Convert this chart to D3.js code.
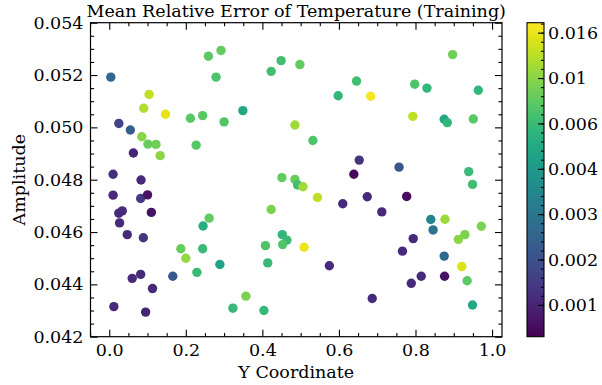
<!DOCTYPE html>
<html>
<head>
<meta charset="utf-8">
<script src="https://cdn.jsdelivr.net/npm/d3@7"></script>
<style>
  body { margin: 0; background: #fff; }
  text { font-family: 'DejaVu Serif', serif; fill: #000; }
</style>
</head>
<body>
<div id="chart"></div>
<script>
// Y coordinate of each sample
const xs = [
  0.259, 0.292, 0.004, 0.279, 0.104, 0.090, 0.147, 0.212, 0.244, 0.300,
  0.025, 0.055, 0.085, 0.101, 0.122, 0.133, 0.227, 0.063, 0.010, 0.083,
  0.449, 0.498, 0.423, 0.646, 0.598, 0.349, 0.485, 0.532, 0.653, 0.639,
  0.451, 0.485, 0.897, 0.798, 0.830, 0.964, 0.683, 0.793, 0.875, 0.883,
  0.951, 0.757, 0.939, 0.010, 0.082, 0.100, 0.025, 0.034, 0.110, 0.027,
  0.047, 0.089, 0.261, 0.245, 0.187, 0.244, 0.200, 0.289, 0.229, 0.166,
  0.082, 0.060, 0.113, 0.012, 0.095, 0.492, 0.506, 0.544, 0.610, 0.423,
  0.452, 0.464, 0.453, 0.408, 0.509, 0.414, 0.575, 0.357, 0.323, 0.404,
  0.949, 0.674, 0.777, 0.712, 0.840, 0.877, 0.846, 0.972, 0.929, 0.912,
  0.794, 0.766, 0.875, 0.921, 0.815, 0.876, 0.789, 0.935, 0.687, 0.949
];
// amplitude of each sample
const ys = [
  0.05272, 0.05294, 0.05192, 0.05192, 0.05126, 0.05073, 0.05050, 0.05035, 0.05045, 0.05021,
  0.05015, 0.04990, 0.04964, 0.04936, 0.04935, 0.04892, 0.04932, 0.04902, 0.04821, 0.04799,
  0.05255, 0.05240, 0.05214, 0.05177, 0.05121, 0.05064, 0.05009, 0.04950, 0.04875, 0.04821,
  0.04808, 0.04801, 0.05278, 0.05165, 0.05150, 0.05142, 0.05119, 0.05042, 0.05031, 0.05018,
  0.05032, 0.04848, 0.04831, 0.04741, 0.04728, 0.04742, 0.04672, 0.04681, 0.04675, 0.04635,
  0.04590, 0.04578, 0.04653, 0.04623, 0.04536, 0.04536, 0.04500, 0.04476, 0.04446, 0.04431,
  0.04438, 0.04423, 0.04384, 0.04315, 0.04294, 0.04780, 0.04773, 0.04732, 0.04708, 0.04686,
  0.04590, 0.04569, 0.04552, 0.04548, 0.04542, 0.04482, 0.04471, 0.04355, 0.04309, 0.04300,
  0.04782, 0.04735, 0.04736, 0.04677, 0.04648, 0.04649, 0.04608, 0.04622, 0.04590, 0.04572,
  0.04575, 0.04527, 0.04508, 0.04468, 0.04431, 0.04431, 0.04404, 0.04414, 0.04346, 0.04321
];
// mean relative error of temperature
const errs = [
  0.0079, 0.0082, 0.00207, 0.0072, 0.0128, 0.0120, 0.0154, 0.0077, 0.0077, 0.0074,
  0.00137, 0.00188, 0.0099, 0.0084, 0.0087, 0.0102, 0.0077, 0.00100, 0.00110, 0.00106,
  0.0067, 0.0082, 0.0067, 0.0067, 0.0059, 0.0049, 0.0112, 0.0072, 0.00117, 0.00077,
  0.0082, 0.0084, 0.0087, 0.0072, 0.0059, 0.0059, 0.0170, 0.0128, 0.0049, 0.0059,
  0.0077, 0.00171, 0.0063, 0.00106, 0.00124, 0.00085, 0.00106, 0.00106, 0.00085, 0.00106,
  0.00106, 0.00117, 0.0082, 0.0052, 0.0084, 0.0063, 0.0105, 0.0046, 0.0063, 0.00171,
  0.00106, 0.00106, 0.00106, 0.00106, 0.00100, 0.0067, 0.0112, 0.0128, 0.00106, 0.0093,
  0.0059, 0.0063, 0.0074, 0.0072, 0.0159, 0.0061, 0.00106, 0.0093, 0.0061, 0.0061,
  0.0067, 0.00106, 0.00080, 0.00106, 0.00304, 0.0109, 0.00243, 0.0093, 0.0093, 0.0099,
  0.00106, 0.00106, 0.00207, 0.0149, 0.00106, 0.00085, 0.00106, 0.0079, 0.00106, 0.0049
];

const xTicks = [0.0, 0.2, 0.4, 0.6, 0.8, 1.0];
const yTicks = [0.042, 0.044, 0.046, 0.048, 0.050, 0.052, 0.054];
const cbTickValues = [0.001, 0.001585, 0.002512, 0.003981, 0.00631, 0.01, 0.01585];
const cbTickLabels = ['0.001', '0.002', '0.003', '0.004', '0.006', '0.01', '0.016'];
const cbDomain = [0.000724, 0.01754];

const width = 602, height = 385;
const plot = { left: 90.5, right: 502, top: 22.7, bottom: 336.7 };
const cb = { left: 527, width: 17 };
const majorLen = 7, minorLen = 3.6, fontSize = 17.5;

const svg = d3.select('#chart').append('svg')
  .attr('width', width)
  .attr('height', height);

const x = d3.scaleLinear().domain([-0.049, 1.026]).range([plot.left, plot.right]);
const y = d3.scaleLinear().domain([0.042, 0.054]).range([plot.bottom, plot.top]);
const cy = d3.scaleLog().domain(cbDomain).range([plot.bottom, plot.top]);
const ct = d3.scaleLog().domain(cbDomain).range([0, 1]).clamp(true);
const color = v => d3.interpolateViridis(ct(v));

const points = xs.map((v, i) => ({ x: v, y: ys[i], e: errs[i] }));

// minor tick positions
const xMinor = d3.range(-0.05, 1.03, 0.05).filter(v => Math.abs(v * 5 - Math.round(v * 5)) > 1e-6);
const yMinor = d3.range(0.042, 0.05401, 0.0005).filter(v => Math.abs(v * 500 - Math.round(v * 500)) > 1e-6);

function tickAxis (axisFn, scale, values, len, fmt, pad) {
  return axisFn(scale).tickValues(values).tickSize(-len).tickPadding(pad).tickFormat(fmt);
}

function styleAxis (g) {
  g.select('.domain').remove();
  g.selectAll('line').attr('stroke', '#000').attr('stroke-width', 1.1);
  g.selectAll('text').style('font-size', fontSize + 'px').style('font-family', "'DejaVu Serif', serif");
}

// points
svg.append('g')
  .selectAll('circle')
  .data(points)
  .enter()
  .append('circle')
  .attr('cx', d => x(d.x))
  .attr('cy', d => y(d.y))
  .attr('r', 4.7)
  .attr('fill', d => color(d.e));

// axes: major + minor, on all four sides, pointing inwards
const fmtX = d3.format('.1f');
const fmtY = d3.format('.3f');
svg.append('g').attr('transform', `translate(0,${plot.bottom})`)
  .call(tickAxis(d3.axisBottom, x, xTicks, majorLen, fmtX, 7)).call(styleAxis);
svg.append('g').attr('transform', `translate(0,${plot.bottom})`)
  .call(tickAxis(d3.axisBottom, x, xMinor, minorLen, '', 7)).call(styleAxis);
svg.append('g').attr('transform', `translate(0,${plot.top})`)
  .call(tickAxis(d3.axisTop, x, xTicks, majorLen, '', 7)).call(styleAxis);
svg.append('g').attr('transform', `translate(0,${plot.top})`)
  .call(tickAxis(d3.axisTop, x, xMinor, minorLen, '', 7)).call(styleAxis);
svg.append('g').attr('transform', `translate(${plot.left},0)`)
  .call(tickAxis(d3.axisLeft, y, yTicks, majorLen, fmtY, 7)).call(styleAxis);
svg.append('g').attr('transform', `translate(${plot.left},0)`)
  .call(tickAxis(d3.axisLeft, y, yMinor, minorLen, '', 7)).call(styleAxis);
svg.append('g').attr('transform', `translate(${plot.right},0)`)
  .call(tickAxis(d3.axisRight, y, yTicks, majorLen, '', 7)).call(styleAxis);
svg.append('g').attr('transform', `translate(${plot.right},0)`)
  .call(tickAxis(d3.axisRight, y, yMinor, minorLen, '', 7)).call(styleAxis);

svg.append('rect')
  .attr('x', plot.left).attr('y', plot.top)
  .attr('width', plot.right - plot.left).attr('height', plot.bottom - plot.top)
  .attr('fill', 'none').attr('stroke', '#000').attr('stroke-width', 1.2);

// labels
svg.append('text')
  .attr('x', (plot.left + plot.right) / 2).attr('y', 16.5)
  .attr('text-anchor', 'middle').style('font-size', fontSize + 'px')
  .text('Mean Relative Error of Temperature (Training)');
svg.append('text')
  .attr('x', (plot.left + plot.right) / 2).attr('y', 378)
  .attr('text-anchor', 'middle').style('font-size', fontSize + 'px')
  .text('Y Coordinate');
svg.append('text')
  .attr('transform', `translate(24.5,${(plot.top + plot.bottom) / 2}) rotate(-90)`)
  .attr('text-anchor', 'middle').style('font-size', fontSize + 'px')
  .text('Amplitude');

// colorbar
const grad = svg.append('defs').append('linearGradient')
  .attr('id', 'viridis').attr('x1', 0).attr('y1', 1).attr('x2', 0).attr('y2', 0);
d3.range(0, 1.0001, 0.05).forEach(t => {
  grad.append('stop').attr('offset', t).attr('stop-color', d3.interpolateViridis(t));
});
svg.append('rect')
  .attr('x', cb.left).attr('y', plot.top)
  .attr('width', cb.width).attr('height', plot.bottom - plot.top)
  .attr('fill', 'url(#viridis)');

const cbMinor = d3.range(-3, -1.7, 0.04).map(p => Math.pow(10, p))
  .filter(v => v > cbDomain[0] && v < cbDomain[1]);
const cbAxis = svg.append('g').attr('transform', `translate(${cb.left + cb.width},0)`);
cbAxis.call(d3.axisRight(cy).tickValues(cbTickValues).tickSize(-6).tickPadding(4)
  .tickFormat((d, i) => cbTickLabels[i])).call(styleAxis);
svg.append('g').attr('transform', `translate(${cb.left + cb.width},0)`)
  .call(d3.axisRight(cy).tickValues(cbMinor).tickSize(-3).tickFormat('')).call(styleAxis);
svg.append('rect')
  .attr('x', cb.left).attr('y', plot.top)
  .attr('width', cb.width).attr('height', plot.bottom - plot.top)
  .attr('fill', 'none').attr('stroke', '#000').attr('stroke-width', 1.1);
</script>
</body>
</html>
